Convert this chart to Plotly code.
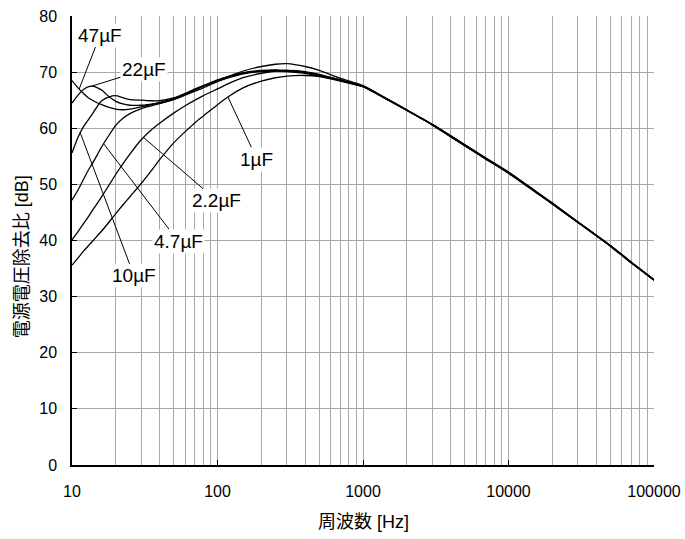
import numpy as np
import plotly.graph_objects as go

# Frequency points (Hz) shared by every curve
freq_hz = [10, 11, 12, 13, 14, 15, 16, 18, 20, 22, 25, 30, 35, 40, 50, 60, 70, 80,
           100, 120, 150, 200, 250, 300, 400, 500, 700, 1000, 1500, 2000, 3000,
           4000, 5000, 7000, 10000, 15000, 20000, 30000, 50000, 70000, 100000]

# Power-supply rejection ratio (dB) for each output capacitor value
psrr_47uF = [68.5, 67.2, 66.2, 65.4, 64.9, 64.5, 64.2, 63.7, 63.4, 63.3, 63.4, 63.8, 64.2, 64.6,
             65.3, 66.2, 67.0, 67.6, 68.6, 69.3, 70.2, 71.0, 71.4, 71.5, 71.0, 70.3, 68.9, 67.6,
             65.1, 63.3, 60.7, 58.7, 57.1, 54.7, 52.2, 49.0, 46.7, 43.3, 39.1, 36.1, 33.0]
psrr_22uF = [64.5, 65.9, 66.9, 67.4, 67.5, 67.2, 66.8, 65.6, 64.8, 64.4, 64.1, 64.1, 64.3, 64.5,
             65.2, 66.0, 66.8, 67.5, 68.5, 69.2, 69.9, 70.3, 70.4, 70.3, 70.0, 69.5, 68.6, 67.5,
             65.0, 63.2, 60.6, 58.6, 57.0, 54.6, 52.1, 48.9, 46.6, 43.3, 39.1, 36.1, 33.0]
psrr_10uF = [55.6, 58.4, 60.3, 61.6, 62.8, 64.0, 64.9, 65.6, 65.8, 65.5, 65.1, 65.0, 64.9, 64.9,
             65.4, 66.1, 66.9, 67.5, 68.5, 69.2, 69.8, 70.2, 70.3, 70.2, 69.9, 69.4, 68.5, 67.4,
             65.0, 63.2, 60.6, 58.5, 56.9, 54.5, 52.0, 48.8, 46.5, 43.2, 39.0, 36.0, 32.9]
psrr_4u7F = [47.2, 49.0, 50.9, 52.6, 54.0, 55.4, 56.7, 58.8, 60.5, 61.6, 62.6, 63.5, 64.0, 64.4,
             65.1, 65.9, 66.6, 67.2, 68.3, 69.0, 69.7, 70.1, 70.2, 70.1, 69.8, 69.3, 68.5, 67.4,
             65.0, 63.2, 60.6, 58.5, 56.9, 54.5, 52.0, 48.8, 46.5, 43.2, 39.0, 36.0, 32.9]
psrr_2u2F = [40.1, 41.6, 43.0, 44.3, 45.6, 46.7, 47.8, 49.9, 51.8, 53.4, 55.4, 58.0, 59.7, 60.9,
             62.7, 64.0, 65.0, 65.8, 67.0, 68.0, 69.0, 69.8, 70.2, 70.3, 70.1, 69.6, 68.6, 67.5,
             65.0, 63.2, 60.6, 58.6, 57.0, 54.6, 52.1, 48.9, 46.6, 43.3, 39.1, 36.1, 33.0]
psrr_1uF = [35.6, 36.9, 38.1, 39.1, 40.0, 40.9, 41.7, 43.3, 44.8, 46.1, 47.8, 50.2, 52.4, 54.4,
            57.4, 59.4, 61.0, 62.2, 64.2, 65.7, 67.2, 68.4, 69.0, 69.3, 69.4, 69.2, 68.4, 67.4,
            65.0, 63.2, 60.6, 58.6, 57.0, 54.6, 52.1, 48.9, 46.6, 43.3, 39.1, 36.1, 33.0]

cap_labels = ["47µF", "22µF", "10µF", "4.7µF", "2.2µF", "1µF"]
cap_series = [psrr_47uF, psrr_22uF, psrr_10uF, psrr_4u7F, psrr_2u2F, psrr_1uF]

# Label text positions and the frequency where each leader meets its curve
label_hz = [15.6, 31.2, 26.7, 53.6, 99.2, 186.6]
label_db = [76.6, 70.4, 33.7, 39.9, 47.1, 54.5]
leader_hz = [11.2, 13.5, 11.4, 16.5, 31.0, 118.0]

x_tick_vals = [10, 100, 1000, 10000, 100000]
x_tick_text = ["10", "100", "1000", "10000", "100000"]

FONT = "Liberation Sans, Arial, Noto Sans CJK JP, sans-serif"
GRID = "#a8a8a8"

fig = go.Figure()
for name, vals in zip(cap_labels, cap_series):
    fig.add_trace(go.Scatter(
        x=freq_hz, y=vals, mode="lines", name=name,
        line=dict(color="black", width=1.3, shape="spline", smoothing=0.6),
        showlegend=False, hoverinfo="skip",
    ))

logf = np.log10(freq_hz)
for name, vals, lx, ly, hz in zip(cap_labels, cap_series, label_hz, label_db, leader_hz):
    tip_y = float(np.interp(np.log10(hz), logf, vals))
    fig.add_annotation(
        x=np.log10(hz), y=tip_y, xref="x", yref="y",
        ax=np.log10(lx), ay=ly, axref="x", ayref="y",
        text=name, showarrow=True, arrowhead=0, arrowwidth=1,
        arrowcolor="black", standoff=0,
        font=dict(family=FONT, size=19, color="black"),
        bgcolor="white", borderpad=1,
    )

# Axis titles
fig.add_annotation(
    text="周波数 [Hz]", xref="paper", yref="paper", x=0.5, y=-0.127,
    xanchor="center", yanchor="middle", showarrow=False,
    font=dict(family=FONT, size=18, color="#000000"),
)
fig.add_annotation(
    text="電源電圧除去比 [dB]", xref="paper", yref="paper", x=-0.086, y=0.465,
    xanchor="center", yanchor="middle", showarrow=False, textangle=-90,
    font=dict(family=FONT, size=18, color="#000000"),
)

fig.update_xaxes(
    type="log", range=[1, 5], automargin=False,
    tickvals=x_tick_vals, ticktext=x_tick_text,
    showgrid=True, gridcolor=GRID, gridwidth=1,
    minor=dict(dtick="D1", showgrid=True, gridcolor=GRID, gridwidth=1, ticks=""),
    showline=True, linecolor="black", linewidth=1.5,
    ticks="inside", ticklen=5, tickcolor="black",
    ticklabelstandoff=11,
    tickfont=dict(family=FONT, size=16, color="black"),
    zeroline=False,
)
fig.update_yaxes(
    range=[0, 80], dtick=10, automargin=False,
    showgrid=True, gridcolor=GRID, gridwidth=1,
    showline=True, linecolor="black", linewidth=1.5,
    ticks="inside", ticklen=5, tickcolor="black",
    ticklabelstandoff=10,
    tickfont=dict(family=FONT, size=16, color="black"),
    zeroline=False,
)
fig.update_layout(
    width=685, height=539,
    margin=dict(l=72, r=31, t=16, b=74),
    paper_bgcolor="white", plot_bgcolor="white",
)
fig.write_html("out.html")
